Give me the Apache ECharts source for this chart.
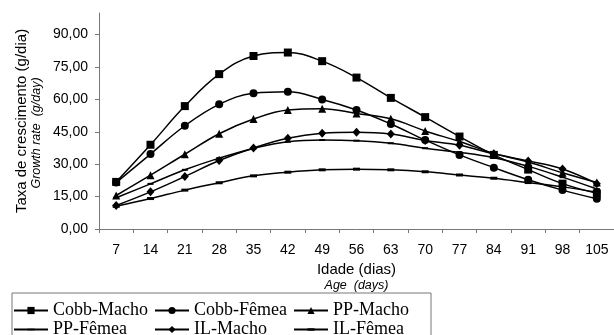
<!DOCTYPE html>
<html>
<head>
<meta charset="utf-8">
<script src="https://cdn.jsdelivr.net/npm/echarts@6/dist/echarts.min.js"></script>
<style>
  html, body { margin: 0; padding: 0; background: #fff; }
  #chart { width: 614px; height: 335px; }
</style>
</head>
<body>
<div id="chart"></div>
<script>
// dados (idade em dias, taxa de crescimento g/dia)
const idades = ['7', '14', '21', '28', '35', '42', '49', '56', '63', '70', '77', '84', '91', '98', '105'];
const yTicks = [0, 15, 30, 45, 60, 75, 90];

const cobbMacho  = [21.8, 39.0, 56.9, 71.7, 80.1, 81.7, 77.7, 70.1, 60.7, 51.8, 42.8, 34.3, 27.5, 21.0, 16.5];
const cobbFemea  = [21.5, 34.7, 47.8, 57.7, 62.8, 63.5, 60.0, 55.1, 48.6, 41.2, 34.3, 28.4, 22.8, 18.0, 14.0];
const ppMacho    = [15.5, 24.9, 34.6, 44.1, 50.9, 55.1, 55.7, 53.5, 51.0, 45.4, 40.5, 35.0, 31.0, 26.0, 21.5];
const ppFemea    = [14.5, 20.9, 27.4, 32.8, 37.3, 40.4, 41.2, 40.9, 39.7, 37.4, 35.5, 33.0, 29.0, 24.0, 18.5];
const ilMacho    = [10.9, 17.2, 24.3, 31.7, 37.5, 42.0, 44.3, 44.8, 44.0, 41.0, 38.8, 34.8, 31.5, 27.8, 21.0];
const ilFemea    = [10.5, 14.1, 18.0, 21.4, 24.6, 26.3, 27.4, 27.7, 27.4, 26.5, 25.0, 23.5, 21.5, 19.5, 17.0];

// marcadores "traço" (a caixa do path fica alta para a legenda não virar quadrado)
const tracoFino = 'path://M0,0 M0,3.5 L6,3.5 L6,5.5 L0,5.5 Z M6,9';
const tracoGrosso = 'path://M0,0 M0,3 L7,3 L7,6 L0,6 Z M7,9';

const chart = echarts.init(document.getElementById('chart'));

function serie(nome, dados, symbol, size) {
    return {
        name: nome,
        type: 'line',
        data: dados,
        smooth: 0.4,
        symbol: symbol,
        symbolSize: size,
        showAllSymbol: true,
        lineStyle: { color: '#000', width: 1.5 },
        itemStyle: { color: '#000' },
        emphasis: { disabled: true }
    };
}

// legenda em 3 colunas, como no original
function legenda(left, nomes) {
    return {
        orient: 'vertical',
        left: left,
        top: 301,
        height: 50,
        itemWidth: 34,
        itemHeight: 9,
        itemGap: 0,
        padding: 0,
        data: nomes,
        textStyle: { fontFamily: 'Liberation Serif', fontSize: 18, color: '#000', lineHeight: 19 }
    };
}

const option = {
    animation: false,
    grid: { left: 99, right: 0, top: 13, bottom: 106 },
    xAxis: {
        type: 'category',
        data: idades,
        boundaryGap: true,
        axisLine: { lineStyle: { color: '#777', width: 1 } },
        axisTick: { show: true, length: 4, lineStyle: { color: '#777' } },
        axisLabel: { margin: 14, fontFamily: 'Liberation Sans', fontSize: 14, color: '#000' },
        name: '{a|Idade (dias)}\n{b|Age  (days)}',
        nameLocation: 'middle',
        nameGap: 32,
        nameTextStyle: {
            align: 'center',
            rich: {
                a: { fontFamily: 'Liberation Sans', fontSize: 15, color: '#000', lineHeight: 17, align: 'center' },
                b: { fontFamily: 'Liberation Sans', fontSize: 12.5, fontStyle: 'italic', color: '#000', lineHeight: 16, align: 'center' }
            }
        }
    },
    yAxis: {
        type: 'value',
        min: 0,
        max: 100,
        interval: 15,
        axisLine: { show: true, lineStyle: { color: '#777', width: 1 } },
        axisTick: { show: true, length: 4, inside: false, customValues: yTicks, lineStyle: { color: '#777' } },
        splitLine: { show: false },
        axisLabel: {
            margin: 11,
            customValues: yTicks,
            fontFamily: 'Liberation Sans', fontSize: 14, color: '#000',
            formatter: v => v.toFixed(2).replace('.', ',')
        },
        name: 'Taxa de crescimento (g/dia)',
        nameLocation: 'middle',
        nameRotate: 90,
        nameGap: 70,
        nameTextStyle: { fontFamily: 'Liberation Sans', fontSize: 15, color: '#000' }
    },
    legend: [
        legenda(13, ['Cobb-Macho', 'PP-Fêmea']),
        legenda(154, ['Cobb-Fêmea', 'IL-Macho']),
        legenda(293, ['PP-Macho', 'IL-Fêmea'])
    ],
    graphic: [{
        type: 'text',
        x: 37,
        y: 133,
        rotation: Math.PI / 2,
        style: {
            text: 'Growth rate  (g/day)',
            fontFamily: 'Liberation Sans', fontSize: 12.5, fontStyle: 'italic', fill: '#000',
            align: 'center', verticalAlign: 'middle'
        },
        silent: true
    }, {
        type: 'rect',
        shape: { x: 12, y: 293, width: 419, height: 60 },
        style: { fill: 'none', stroke: '#777', lineWidth: 1 },
        silent: true
    }],
    series: [
        serie('Cobb-Macho', cobbMacho, 'rect', 8),
        serie('Cobb-Fêmea', cobbFemea, 'circle', 8),
        serie('PP-Macho', ppMacho, 'triangle', 8),
        serie('PP-Fêmea', ppFemea, tracoFino, [6, 9]),
        serie('IL-Macho', ilMacho, 'diamond', [8, 9]),
        serie('IL-Fêmea', ilFemea, tracoGrosso, [7, 9])
    ]
};

chart.setOption(option);
</script>
</body>
</html>
